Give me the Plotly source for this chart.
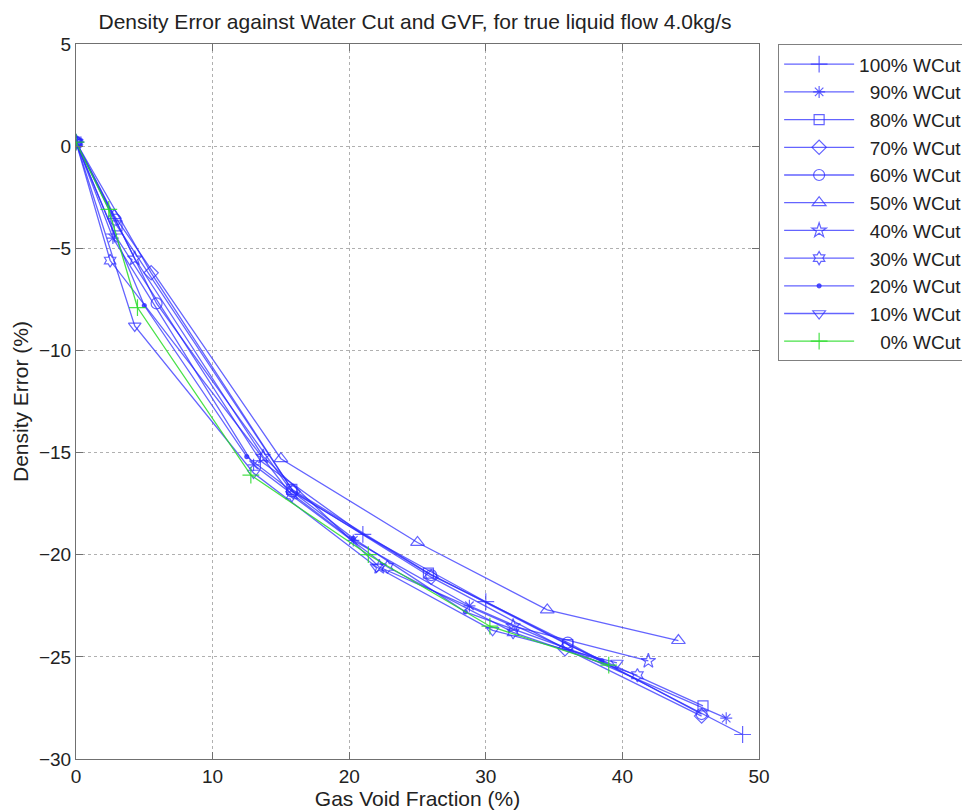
import plotly.graph_objects as go

labels = ["100% WCut", "90% WCut", "80% WCut", "70% WCut", "60% WCut", "50% WCut",
          "40% WCut", "30% WCut", "20% WCut", "10% WCut", "0% WCut"]

gvf_100 = [0, 2.8, 13.5, 21.0, 30.0, 48.8]
err_100 = [0.2, -4.3, -15.4, -19.0, -22.3, -28.8]
gvf_90 = [0, 2.7, 13.0, 20.3, 28.8, 47.6]
err_90 = [0.2, -4.5, -15.6, -19.3, -22.5, -28.0]
gvf_80 = [0, 3.0, 15.8, 25.8, 36.0, 45.9]
err_80 = [0.2, -3.9, -16.8, -20.9, -24.4, -27.4]
gvf_70 = [0, 5.5, 15.9, 26.0, 35.8, 45.8]
err_70 = [0.2, -6.2, -16.9, -21.1, -24.6, -27.9]
gvf_60 = [0, 2.9, 5.9, 15.8, 26.0, 36.0, 45.8]
err_60 = [0.2, -3.6, -7.7, -16.9, -21.0, -24.3, -27.8]
gvf_50 = [0, 2.8, 15.0, 25.0, 34.5, 44.1]
err_50 = [0.2, -3.4, -15.3, -19.4, -22.7, -24.2]
gvf_40 = [0, 4.3, 13.7, 22.2, 32.0, 41.9]
err_40 = [0.2, -5.5, -15.2, -20.6, -23.5, -25.2]
gvf_30 = [0, 2.5, 15.8, 22.8, 32.0, 41.1]
err_30 = [0.2, -5.6, -17.1, -20.6, -23.8, -25.9]
gvf_20 = [0, 5.0, 12.5, 20.3, 28.5, 38.5]
err_20 = [0.2, -7.8, -15.2, -19.2, -22.8, -25.2]
gvf_10 = [0, 4.3, 13.0, 22.0, 30.5, 39.6]
err_10 = [0.2, -8.8, -16.0, -20.6, -23.7, -25.3]
gvf_0 = [0, 2.4, 4.5, 12.8, 21.4, 30.3, 39.0]
err_0 = [0.2, -3.1, -7.9, -16.1, -20.0, -23.5, -25.4]

xs = [gvf_100, gvf_90, gvf_80, gvf_70, gvf_60, gvf_50, gvf_40, gvf_30, gvf_20, gvf_10, gvf_0]
ys = [err_100, err_90, err_80, err_70, err_60, err_50, err_40, err_30, err_20, err_10, err_0]
symbols = ["cross-thin-open", "asterisk-open", "square-open", "diamond-open", "circle-open",
           "triangle-up-open", "star-open", "hexagram-open", "circle", "triangle-down-open",
           "cross-thin-open"]
sizes = [12, 10, 10, 11, 11, 12, 11, 10, 4, 11, 12]

blue = "rgba(40,40,255,0.72)"
green = "rgba(40,220,40,0.85)"
FONT = "Liberation Sans, Arial, sans-serif"

fig = go.Figure()
for i, lab in enumerate(labels):
    col = green if lab.startswith("0%") else blue
    if lab.startswith("100"):
        disp = lab
    elif lab.startswith("0%"):
        disp = "\u00a0\u00a0\u00a0\u00a0" + lab
    else:
        disp = "\u00a0\u00a0" + lab
    fig.add_trace(go.Scatter(
        x=xs[i], y=ys[i], mode="lines+markers", name=disp,
        line=dict(color=col, width=1.3),
        marker=dict(symbol=symbols[i], size=sizes[i], color=col,
                    line=dict(color=col, width=1.2)),
    ))

axis_common = dict(
    showgrid=True, gridcolor="#b0b0b0", griddash="dot", gridwidth=1,
    showline=True, linecolor="#707070", linewidth=1, mirror="ticks",
    ticks="inside", ticklen=7, tickcolor="#707070", zeroline=False, automargin=False,
    tickfont=dict(family=FONT, size=19, color="#222"),
)

fig.update_layout(
    width=970, height=810,
    paper_bgcolor="white", plot_bgcolor="white",
    margin=dict(l=68, r=219, t=36, b=59, autoexpand=False),
    title=dict(text="Density Error against Water Cut and GVF, for true liquid flow 4.0kg/s",
               x=0.4196, xanchor="center", y=0.9827, yanchor="middle",
               font=dict(family=FONT, size=21, color="#222")),
    xaxis=dict(range=[0, 50], dtick=10,
               title=dict(text="Gas Void Fraction (%)", standoff=2,
                          font=dict(family=FONT, size=21, color="#222")),
               **axis_common),
    yaxis=dict(range=[-30, 5], dtick=5,
               title=dict(text="Density Error (%)", standoff=4,
                          font=dict(family=FONT, size=21, color="#222")),
               **axis_common),
    legend=dict(x=1.028, xanchor="left", y=0.9995, yanchor="top",
                bordercolor="#808080", borderwidth=1, bgcolor="white",
                font=dict(family=FONT, size=19, color="#222"),
                tracegroupgap=0, itemwidth=70),
    showlegend=True,
)

fig.write_html("out.html")
